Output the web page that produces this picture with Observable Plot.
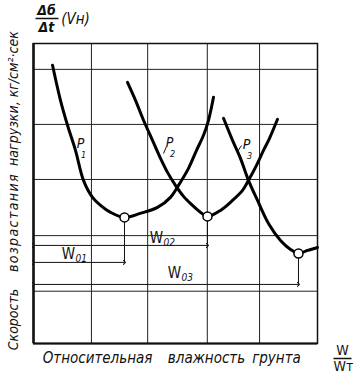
<!DOCTYPE html>
<html><head><meta charset="utf-8">
<script src="https://cdn.jsdelivr.net/npm/d3@7"></script>
<script src="https://cdn.jsdelivr.net/npm/@observablehq/plot@0.6"></script>
<style>body{margin:0;background:#fff} svg{display:block}</style>
</head><body><div id="chart"></div>
<script>
// Curves (relative moisture W/Wт in grid units, loading-rate in grid units)
const p1X = [0.335,0.475,0.599,0.739,0.880,1.039,1.180,1.356,1.602,1.880,2.183,2.412,2.553,2.729,2.870,2.993,3.081,3.169];
const p1Y = [5.055,4.418,3.964,3.509,2.964,2.655,2.509,2.382,2.291,2.364,2.473,2.655,2.873,3.182,3.509,3.782,4.055,4.473];
const p2X = [1.655,1.796,1.937,2.095,2.236,2.359,2.500,2.641,2.799,2.940,3.063,3.292,3.504,3.680,3.785,3.926,4.049,4.155,4.296];
const p2Y = [4.745,4.418,4.055,3.691,3.364,3.109,2.873,2.673,2.509,2.382,2.309,2.418,2.600,2.782,2.964,3.236,3.509,3.727,4.073];
const p3X = [3.345,3.504,3.644,3.785,3.944,4.137,4.349,4.525,4.665,4.824,5.000];
const p3Y = [4.091,3.691,3.364,2.964,2.600,2.182,1.873,1.709,1.636,1.691,1.745];
// Minima (optimal moisture W0) and their dimension-line levels
const minNames = ["01","02","03"];
const minX = [1.602, 3.063, 4.665];
const minY = [2.291, 2.309, 1.636];
const dimY = [1.473, 1.782, 1.073];
// Grid
const gridX = [1.02, 2.01, 3.06, 3.98];
const gridY = [0.95, 1.96, 2.98, 3.98, 4.98];
// Texts
const curveNames = ["1","2","3"];
const yTitleParts = ["Скорость", "возрастания", "нагрузки, кг/см²·сек"];
const xTitleParts = ["Относительная", "влажность", "грунта"];

const W = 360, H = 375, ML = 33, MR = 43, MT = 43, MB = 32;
const XMAX = 5, YMAX = 5.45;
const fx = px => (px - ML) / (W - ML - MR) * XMAX;
const fy = py => (H - MB - py) / (H - MB - MT) * YMAX;
const FONT = '"DejaVu Sans Condensed", "Liberation Sans Narrow", "DejaVu Sans", sans-serif';

const line = (xs, ys) => xs.map((x, i) => ({x, y: ys[i]}));
const mins = minX.map((x, i) => ({name: minNames[i], x, y: minY[i], lev: dimY[i]}));

// annotation anchors (pixel layout)
const wLabelPos = [[68, 254], [156, 238], [174, 273]];
const pLabelPos = [[80, 143], [169, 142], [246, 144]];
const ySpots = [319, 222, 98];
const xSpots = [97, 206, 276];

const txt = (s, px, py, o = {}) => Plot.text([s], {x: () => fx(px), y: () => fy(py), text: d => d, fontFamily: FONT, fontStyle: "italic", fill: "#111", ...o});

const marks = [
  Plot.ruleX(gridX, {stroke: "#222", strokeWidth: 1}),
  Plot.ruleY(gridY, {stroke: "#222", strokeWidth: 1}),
  Plot.frame({stroke: "#111", strokeWidth: 1.5}),
  Plot.ruleX([0], {stroke: "#111", strokeWidth: 2.5}),
  Plot.ruleY([0], {stroke: "#111", strokeWidth: 2}),
  Plot.link(mins, {x1: () => 0, x2: d => d.x, y1: d => d.lev, y2: d => d.lev, stroke: "#111", strokeWidth: 1, markerStart: "arrow", markerEnd: "arrow"}),
  Plot.link(mins, {x1: d => d.x, x2: d => d.x, y1: d => d.y, y2: d => d.lev, stroke: "#111", strokeWidth: 1}),
  Plot.line(line(p1X, p1Y), {x: "x", y: "y", curve: "catmull-rom", stroke: "#000", strokeWidth: 3}),
  Plot.line(line(p2X, p2Y), {x: "x", y: "y", curve: "catmull-rom", stroke: "#000", strokeWidth: 3}),
  Plot.line(line(p3X, p3Y), {x: "x", y: "y", curve: "catmull-rom", stroke: "#000", strokeWidth: 3}),
  Plot.dot(mins, {x: "x", y: "y", r: 4.5, fill: "white", stroke: "#000", strokeWidth: 1.5}),
];
// W0 labels
mins.forEach((m, i) => {
  const [px, py] = wLabelPos[i];
  marks.push(txt("W", px, py, {fontSize: 15, fontStyle: "normal"}));
  marks.push(txt(m.name, px + 7, py + 4, {fontSize: 10, textAnchor: "start"}));
});
// curve labels
curveNames.forEach((n, i) => {
  const [px, py] = pLabelPos[i];
  marks.push(txt("P", px, py, {fontSize: 14}));
  marks.push(txt(n, px + 3, py + 12, {fontSize: 9}));
});
// leader ticks for P2, P3
marks.push(Plot.link([[163,153,166,146],[237,151,241,145]], {x1: d => fx(d[0]), y1: d => fy(d[1]), x2: d => fx(d[2]), y2: d => fy(d[3]), stroke: "#111", strokeWidth: 1}));
// y title
yTitleParts.forEach((s, i) => marks.push(txt(s, 13, ySpots[i], {fontSize: 14, rotate: -90})));
// x title
xTitleParts.forEach((s, i) => marks.push(txt(s, xSpots[i], 358, {fontSize: 15})));
// top title Δб/Δt (Vн)
marks.push(txt("Δб", 46, 10, {fontSize: 14, fontWeight: "bold"}));
marks.push(txt("Δt", 46, 27, {fontSize: 14, fontWeight: "bold"}));
marks.push(Plot.link([[35,18,58,18],[333,358,351,358]], {x1: d => fx(d[0]), y1: d => fy(d[1]), x2: d => fx(d[2]), y2: d => fy(d[3]), stroke: "#111", strokeWidth: 1.5}));
marks.push(txt("(Vн)", 75, 19, {fontSize: 15}));
// W/Wт
marks.push(txt("W", 342, 350, {fontSize: 14, fontStyle: "normal"}));
marks.push(txt("Wт", 343, 366, {fontSize: 14, fontStyle: "normal"}));

const chart = Plot.plot({
  width: W, height: H,
  marginLeft: ML, marginRight: MR, marginTop: MT, marginBottom: MB,
  x: {domain: [0, XMAX], axis: null},
  y: {domain: [0, YMAX], axis: null},
  style: {background: "white", overflow: "visible"},
  marks
});
d3.select(chart).selectAll("text").filter(function() { return this.textContent === "возрастания"; }).style("letter-spacing", "1.4px");
document.getElementById("chart").appendChild(chart);
</script></body></html>
